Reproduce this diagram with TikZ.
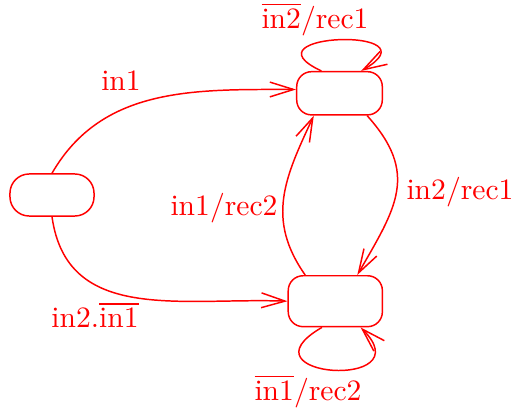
\documentclass[tikz,border=0pt]{standalone}
\usepackage{amsmath}
\usepackage{tikz}
\usetikzlibrary{arrows.meta}

\tikzset{
  state/.style={draw=red, line width=0.5pt, rounded corners=5pt, inner sep=0pt},
  trans/.style={draw=red, line width=0.5pt, -{Straight Barb[length=8pt,width=5pt]}},
  lbl/.style={text=red, inner sep=1pt}
}

\begin{document}
\begin{tikzpicture}[x=0.3378pt,y=0.3378pt]
        \useasboundingbox (0,0) rectangle (516,410);
        % states
        \node[state, rounded corners=6.5pt, minimum width=28.4pt, minimum height=14.2pt] (init) at (52,215) {};
        \node[state, minimum width=28.9pt, minimum height=14.6pt] (top) at (339.5,316.7) {};
        \node[state, minimum width=31.8pt, minimum height=17.2pt] (bot) at (335.3,108.8) {};
        % transitions out of the initial state
        \draw[trans] (init.north) to[out=60,in=180] (top.175);
        \draw[trans] (init.south) to[out=-82,in=178,looseness=1.1] (bot.west);
        % between the two states
        \draw[trans] (top.-39) to[out=-48,in=60,looseness=1.25] (bot.50);
        \draw[trans] (bot.139) to[out=125,in=-115,looseness=1.1] (top.-139);
        % self loops
        \draw[trans] (top.129) .. controls +(155:90) and +(30:90) .. (top.46.5);
        \draw[trans] (bot.-117.5) .. controls +(-150:100) and +(-45:90) .. (bot.-46);
        % labels
        \node[lbl] (lin1) at (121,329) {in1};
        \node[lbl] (lin2) at (95,95) {in2.$\overline{\mbox{in1}}$};
        \node[lbl] (ltb) at (460,218) {in2/rec1};
        \node[lbl] (lbt) at (224,202) {in1/rec2};
        \node[lbl] (ltt) at (315,391) {$\overline{\mbox{in2}}$/rec1};
        \node[lbl] (lbb) at (308,19) {$\overline{\mbox{in1}}$/rec2};
\end{tikzpicture}
\end{document}
